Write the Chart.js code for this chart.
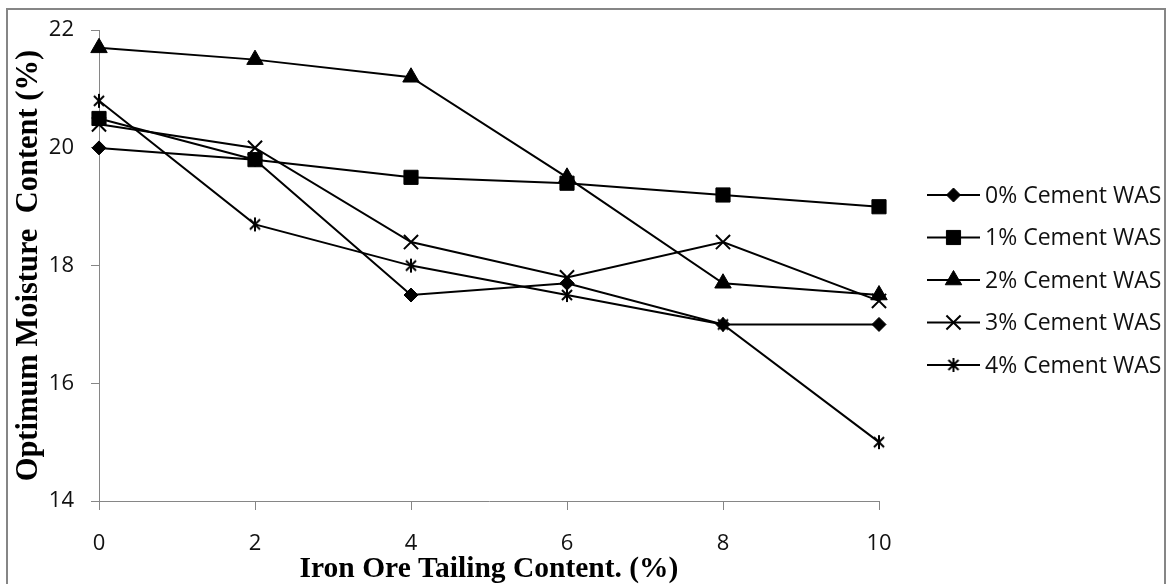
<!DOCTYPE html>
<html>
<head>
<meta charset="utf-8">
<script src="https://cdn.jsdelivr.net/npm/chart.js@4.4.1/dist/chart.umd.min.js"></script>
<style>
  html, body { margin: 0; padding: 0; background: #fff; }
  #wrap { width: 1171px; height: 584px; }
</style>
</head>
<body>
<div id="wrap"><canvas id="chart" width="1171" height="584"></canvas></div>
<script>
// values
const tailing = [0, 2, 4, 6, 8, 10];
const cement0 = [20.0, 19.8, 17.5, 17.7, 17.0, 17.0];
const cement1 = [20.5, 19.8, 19.5, 19.4, 19.2, 19.0];
const cement2 = [21.7, 21.5, 21.2, 19.5, 17.7, 17.5];
const cement3 = [20.4, 20.0, 18.4, 17.8, 18.4, 17.4];
const cement4 = [20.8, 18.7, 18.0, 17.5, 17.0, 15.0];
const seriesNames = ['0% Cement WAS', '1% Cement WAS', '2% Cement WAS', '3% Cement WAS', '4% Cement WAS'];
const xTicks = [0, 2, 4, 6, 8, 10];
const yTicks = [14, 16, 18, 20, 22];

const AXIS_GREY = '#868686';

// excel style asterisk: x with a vertical bar
function asteriskMarker(size) {
    const c = document.createElement('canvas');
    c.width = c.height = size;
    const g = c.getContext('2d');
    const m = size / 2, r = size / 2 - 1, d = r * 0.72;
    g.strokeStyle = '#000';
    g.lineWidth = 2;
    g.beginPath();
    g.moveTo(m - d, m - d); g.lineTo(m + d, m + d);
    g.moveTo(m + d, m - d); g.lineTo(m - d, m + d);
    g.moveTo(m, m - r); g.lineTo(m, m + r);
    g.stroke();
    return c;
}
const asterisk = asteriskMarker(16);

const markers = [
    { pointStyle: 'rectRot', radius: 7, borderWidth: 1 },
    { pointStyle: 'rect', radius: 10, borderWidth: 1 },
    { pointStyle: 'triangle', radius: 9.5, borderWidth: 1 },
    { pointStyle: 'crossRot', radius: 10, borderWidth: 2 },
    { pointStyle: asterisk, radius: 8, borderWidth: 2 },
];

const allSeries = [cement0, cement1, cement2, cement3, cement4];

const datasets = allSeries.map((vals, i) => ({
    label: seriesNames[i],
    data: vals.map((v, j) => ({ x: tailing[j], y: v })),
    borderColor: '#000',
    backgroundColor: '#000',
    borderWidth: 2,
    pointStyle: markers[i].pointStyle,
    pointRadius: markers[i].radius,
    pointHoverRadius: markers[i].radius,
    pointBorderWidth: markers[i].borderWidth,
    pointBackgroundColor: '#000',
    pointBorderColor: '#000',
    tension: 0,
    clip: false,
}));

const frame = {
    id: 'frame',
    beforeDraw(chart) {
        const ctx = chart.ctx;
        ctx.save();
        ctx.fillStyle = '#fff';
        ctx.fillRect(0, 0, chart.width, chart.height);
        ctx.strokeStyle = AXIS_GREY;
        ctx.lineWidth = 2;
        ctx.strokeRect(7, 9, chart.width - 13, chart.height + 20);
        ctx.restore();
    }
};

const sideLegend = {
    id: 'sideLegend',
    afterDraw(chart) {
        const ctx = chart.ctx;
        const x0 = chart.chartArea.right + 48;
        ctx.save();
        chart.data.datasets.forEach((ds, i) => {
            const y = 195 + i * 42.5;
            ctx.strokeStyle = '#000';
            ctx.lineWidth = 2;
            ctx.beginPath();
            ctx.moveTo(x0, y);
            ctx.lineTo(x0 + 53, y);
            ctx.stroke();
            ctx.fillStyle = '#000';
            ctx.lineWidth = ds.pointBorderWidth;
            Chart.helpers.drawPoint(ctx, {
                pointStyle: ds.pointStyle,
                radius: ds.pointRadius,
                borderWidth: ds.pointBorderWidth,
                rotation: 0
            }, x0 + 26.5, y);
            ctx.fillStyle = '#111';
            ctx.font = '23px "Open Sans"';
            ctx.textBaseline = 'middle';
            ctx.fillText(ds.label, x0 + 58, y + 1);
        });
        ctx.restore();
    }
};

new Chart(document.getElementById('chart'), {
    type: 'line',
    data: { datasets: datasets },
    options: {
        responsive: false,
        animation: false,
        events: [],
        layout: { padding: { left: 0, top: 25, right: 292, bottom: 0 } },
        plugins: {
            legend: { display: false },
            tooltip: { enabled: false },
        },
        scales: {
            x: {
                type: 'linear',
                min: 0,
                max: 10,
                afterBuildTicks: (s) => { s.ticks = xTicks.map(v => ({ value: v })); },
                afterFit: (s) => { s.height = 83; },
                grid: { drawOnChartArea: false, color: AXIS_GREY, tickLength: 9, tickColor: AXIS_GREY },
                border: { color: AXIS_GREY, width: 1 },
                ticks: { color: '#111', font: { family: 'Open Sans', size: 22 }, padding: 21, maxRotation: 0 },
                title: {
                    display: true,
                    text: 'Iron Ore Tailing Content. (%)',
                    color: '#000',
                    font: { family: 'Liberation Serif', size: 29.5, weight: 'bold', lineHeight: 1 },
                    padding: { top: 0, bottom: 0 },
                },
            },
            y: {
                type: 'linear',
                min: 14,
                max: 22,
                afterBuildTicks: (s) => { s.ticks = yTicks.map(v => ({ value: v })); },
                afterFit: (s) => { s.width = 99; },
                grid: { drawOnChartArea: false, color: AXIS_GREY, tickLength: 8, tickColor: AXIS_GREY },
                border: { color: AXIS_GREY, width: 1 },
                ticks: { color: '#111', font: { family: 'Open Sans', size: 22 }, padding: 17 },
                title: {
                    display: true,
                    text: 'Optimum Moisture  Content (%)',
                    color: '#000',
                    font: { family: 'Liberation Serif', size: 30.5, weight: 'bold', lineHeight: 1 },
                    padding: { top: 14, bottom: 0 },
                },
            },
        },
    },
    plugins: [frame, sideLegend],
});
</script>
</body>
</html>
